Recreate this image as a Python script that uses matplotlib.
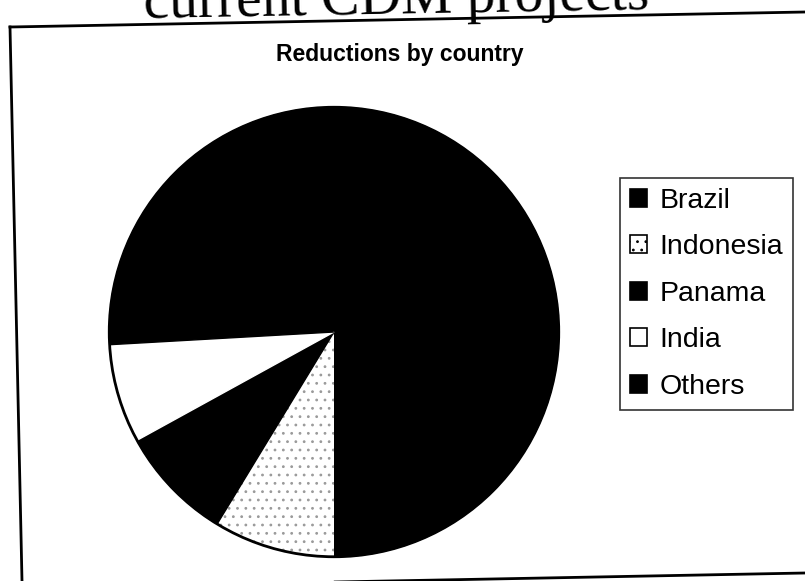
import matplotlib
matplotlib.use("Agg")
import matplotlib.pyplot as plt
from matplotlib.lines import Line2D
from matplotlib.patches import Patch, Circle

# data (share of reductions, %)
countries = ["Brazil", "Indonesia", "Panama", "India", "Others"]
shares = [72.4, 8.7, 8.3, 7.1, 3.5]
slice_colors = ["#000000", "#ffffff", "#000000", "#ffffff", "#000000"]
slice_hatches = [None, "..", None, None, None]

W, H = 805, 581
fig = plt.figure(figsize=(W / 100, H / 100), dpi=100)
fig.patch.set_facecolor("white")


def fx(px):
    return px / W


def fy(py):
    return 1 - py / H


# slide title, cut off at the top of the scan
fig.text(fx(397), fy(14), "current CDM projects", family="Liberation Serif",
         fontsize=41.5, ha="center", va="baseline", rotation=1.0,
         rotation_mode="anchor")

# frame of the pasted chart (scan is slightly rotated)
for (x0, y0), (x1, y1) in [((10, 27), (805, 12)),
                           ((10, 27), (22, 581)),
                           ((22, 588), (805, 573))]:
    fig.add_artist(Line2D([fx(x0), fx(x1)], [fy(y0), fy(y1)],
                          transform=fig.transFigure, color="black", lw=2))

fig.text(fx(400), fy(54), "Reductions by country", family="Liberation Sans",
         fontweight="bold", fontsize=16.5, ha="center", va="center")

# pie
cx, cy, r = 334, 332, 227
ax = fig.add_axes([fx(cx - r), fy(cy + r), (2 * r) / W, (2 * r) / H])
plt.rcParams["hatch.linewidth"] = 0.8
wedges, _ = ax.pie(shares, colors=slice_colors, counterclock=False,
                   startangle=270 + shares[0] * 3.6,
                   wedgeprops=dict(linewidth=0))
for w, c, h in zip(wedges, slice_colors, slice_hatches):
    if h:
        w.set_hatch(h)
        w.set_edgecolor("#9a9a9a")
    else:
        # hide the seams between neighbouring slices
        w.set_edgecolor(c)
        w.set_linewidth(1)
ax.add_patch(Circle((0, 0), 1, fill=False, edgecolor="black", lw=2))
ax.set_xlim(-1.01, 1.01)
ax.set_ylim(-1.01, 1.01)
ax.set_aspect("auto")
ax.axis("off")

# legend
handles = []
for name, c, h in zip(countries, slice_colors, slice_hatches):
    handles.append(Patch(facecolor=c, edgecolor="black", hatch=h, lw=1.2,
                         label=name))
leg = fig.legend(handles=handles, loc="upper left",
                 bbox_to_anchor=(fx(620), fy(178)), borderaxespad=0,
                 prop=dict(family="Liberation Sans", size=20.5),
                 handlelength=0.6, handleheight=0.6, handletextpad=0.45,
                 labelspacing=0.72, borderpad=0.35, fancybox=False,
                 frameon=True)
leg.get_frame().set_edgecolor("black")
leg.get_frame().set_linewidth(1.2)

fig.savefig("out.png", dpi=100, facecolor="white")
